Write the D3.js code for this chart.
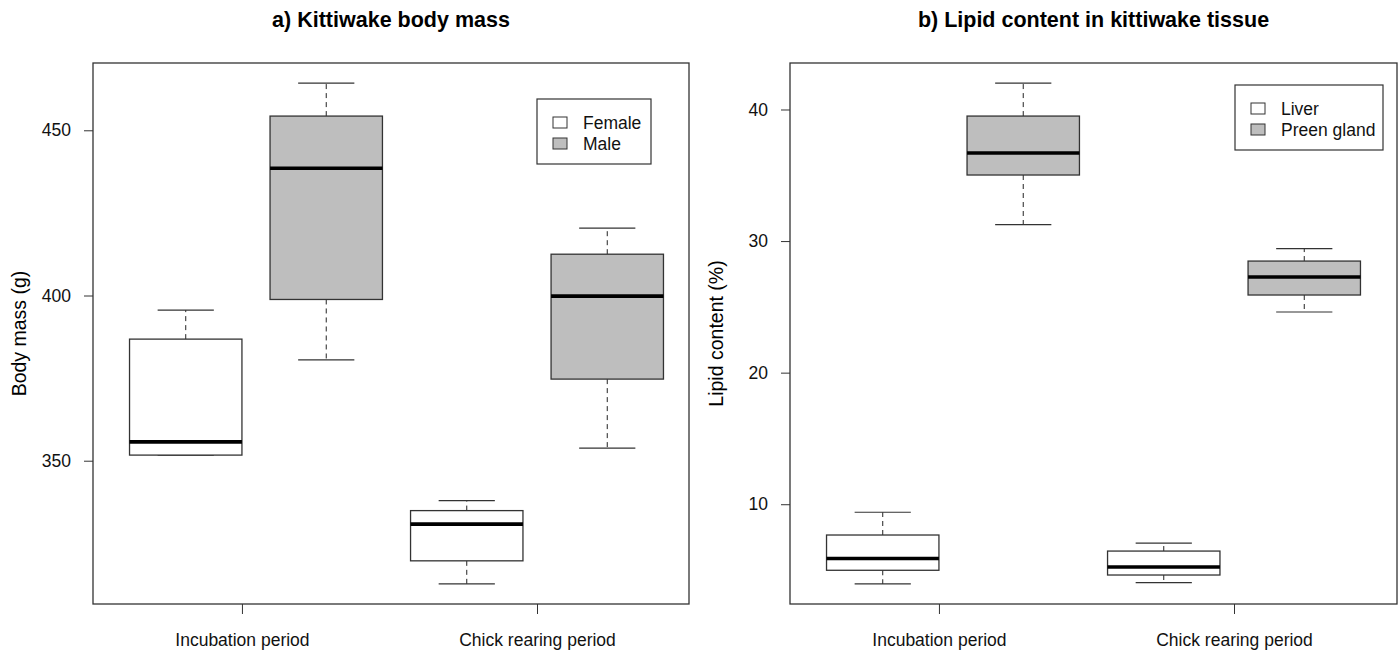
<!DOCTYPE html>
<html>
<head>
<meta charset="utf-8">
<script src="https://cdn.jsdelivr.net/npm/d3@7"></script>
<style>
  body { margin: 0; background: #fff; }
  svg { font-family: "Liberation Sans", Arial, sans-serif; }
  .tick text { font-size: 17.5px; fill: #111; }
  .tick line { stroke: #333; }
</style>
</head>
<body>
<div id="chart"></div>
<script>
// values (lower whisker, Q1, median, Q3, upper whisker)
var periods = ["Incubation period", "Chick rearing period"];
var periodTicks = [1.4, 3.5];

var massGroup = ["Female", "Male", "Female", "Male"];
var massLow  = [351.7, 380.5, 312.7, 353.8];
var massQ1   = [351.7, 398.8, 319.7, 374.7];
var massMed  = [355.7, 438.5, 330.8, 399.8];
var massQ3   = [386.8, 454.3, 334.9, 412.5];
var massHigh = [395.6, 464.3, 337.9, 420.4];
var massTicks = [350, 400, 450];

var lipidGroup = ["Liver", "Preen gland", "Liver", "Preen gland"];
var lipidLow  = [3.94, 31.25, 4.04, 24.61];
var lipidQ1   = [4.98, 35.02, 4.62, 25.90];
var lipidMed  = [5.87, 36.69, 5.23, 27.27];
var lipidQ3   = [7.66, 39.50, 6.44, 28.48];
var lipidHigh = [9.39, 42.01, 7.05, 29.42];
var lipidTicks = [10, 20, 30, 40];

var W = 1400, H = 652;
var svg = d3.select("#chart").append("svg").attr("width", W).attr("height", H);

function boxPanel(opt) {
    var top = 63, bottom = 604;
    // R style: box slots 1..n, xlim 0.5..n+0.5 stretched by 4%
    var x = d3.scaleLinear().domain([0.34, 4.66]).range([opt.left, opt.left + 607]);
    var lo = d3.min(opt.low), hi = d3.max(opt.high), pad = (hi - lo) * 0.04;
    var y = d3.scaleLinear().domain([lo - pad, hi + pad]).range([bottom, top]);
    var g = svg.append("g");

    var rows = opt.med.map(function(m, i) {
        return {pos: i + 1, low: opt.low[i], q1: opt.q1[i], med: m, q3: opt.q3[i],
                high: opt.high[i], grp: opt.groups[i]};
    });
    var fill = d3.scaleOrdinal().domain(opt.legend).range(["#ffffff", "#bebebe"]);
    var bw = 0.8, cw = 0.4;

    var b = g.selectAll(".box").data(rows).enter().append("g").attr("class", "box");
    // whiskers (dashed)
    b.append("line")
        .attr("x1", function(d) { return x(d.pos); }).attr("x2", function(d) { return x(d.pos); })
        .attr("y1", function(d) { return y(d.q3); }).attr("y2", function(d) { return y(d.high); })
        .attr("stroke", "#222").attr("stroke-dasharray", "5,4");
    b.append("line")
        .attr("x1", function(d) { return x(d.pos); }).attr("x2", function(d) { return x(d.pos); })
        .attr("y1", function(d) { return y(d.q1); }).attr("y2", function(d) { return y(d.low); })
        .attr("stroke", "#222").attr("stroke-dasharray", "5,4");
    // caps
    ["high", "low"].forEach(function(k) {
        b.append("line")
            .attr("x1", function(d) { return x(d.pos - cw / 2); })
            .attr("x2", function(d) { return x(d.pos + cw / 2); })
            .attr("y1", function(d) { return y(d[k]); }).attr("y2", function(d) { return y(d[k]); })
            .attr("stroke", "#333").attr("stroke-width", 1.2);
    });
    // box
    b.append("rect")
        .attr("x", function(d) { return x(d.pos - bw / 2); })
        .attr("width", function(d) { return x(d.pos + bw / 2) - x(d.pos - bw / 2); })
        .attr("y", function(d) { return y(d.q3); })
        .attr("height", function(d) { return y(d.q1) - y(d.q3); })
        .attr("fill", function(d) { return fill(d.grp); })
        .attr("stroke", "#333").attr("stroke-width", 1.3);
    // median
    b.append("line")
        .attr("x1", function(d) { return x(d.pos - bw / 2); })
        .attr("x2", function(d) { return x(d.pos + bw / 2); })
        .attr("y1", function(d) { return y(d.med); }).attr("y2", function(d) { return y(d.med); })
        .attr("stroke", "#000").attr("stroke-width", 3.6);

    // frame
    g.append("rect").attr("x", opt.left).attr("y", top)
        .attr("width", opt.right - opt.left).attr("height", bottom - top)
        .attr("fill", "none").attr("stroke", "#333").attr("stroke-width", 1.3);

    // axes
    var ya = g.append("g").attr("transform", "translate(" + opt.left + ",0)")
        .call(d3.axisLeft(y).tickValues(opt.ticks).tickSize(9).tickPadding(13).tickFormat(d3.format("d")));
    ya.select(".domain").remove();
    var xa = g.append("g").attr("transform", "translate(0," + bottom + ")")
        .call(d3.axisBottom(x).tickValues(periodTicks).tickSize(10).tickPadding(20)
              .tickFormat(function(d, i) { return periods[i]; }));
    xa.select(".domain").remove();

    // titles
    g.append("text").attr("x", (opt.left + opt.right) / 2).attr("y", 27)
        .attr("text-anchor", "middle").attr("font-weight", "bold").attr("font-size", "21.5px")
        .attr("fill", "#000").text(opt.title);
    g.append("text").attr("transform", "translate(" + (opt.left - 67) + "," + ((top + bottom) / 2) + ") rotate(-90)")
        .attr("text-anchor", "middle").attr("font-size", "19.5px").attr("fill", "#000").text(opt.ylab);

    // legend
    var L = opt.leg;
    var lg = g.append("g").attr("transform", "translate(" + L.x + "," + L.y + ")");
    lg.append("rect").attr("width", L.w).attr("height", 65)
        .attr("fill", "#fff").attr("stroke", "#333").attr("stroke-width", 1.2);
    var it = lg.selectAll(".it").data(opt.legend).enter().append("g")
        .attr("transform", function(d, i) { return "translate(0," + (24 + i * 21) + ")"; });
    it.append("rect").attr("x", 16).attr("y", -6).attr("width", 14).attr("height", 11)
        .attr("fill", function(d) { return fill(d); }).attr("stroke", "#333");
    it.append("text").attr("x", 46).attr("y", 6).attr("font-size", "17.5px").attr("fill", "#111")
        .text(function(d) { return d; });
}

boxPanel({
    left: 93, right: 689, title: "a) Kittiwake body mass", ylab: "Body mass (g)",
    low: massLow, q1: massQ1, med: massMed, q3: massQ3, high: massHigh,
    groups: massGroup, legend: ["Female", "Male"], ticks: massTicks,
    leg: {x: 537, y: 99, w: 114}
});
boxPanel({
    left: 790, right: 1397, title: "b) Lipid content in kittiwake tissue", ylab: "Lipid content (%)",
    low: lipidLow, q1: lipidQ1, med: lipidMed, q3: lipidQ3, high: lipidHigh,
    groups: lipidGroup, legend: ["Liver", "Preen gland"], ticks: lipidTicks,
    leg: {x: 1235, y: 85, w: 148}
});
</script>
</body>
</html>
